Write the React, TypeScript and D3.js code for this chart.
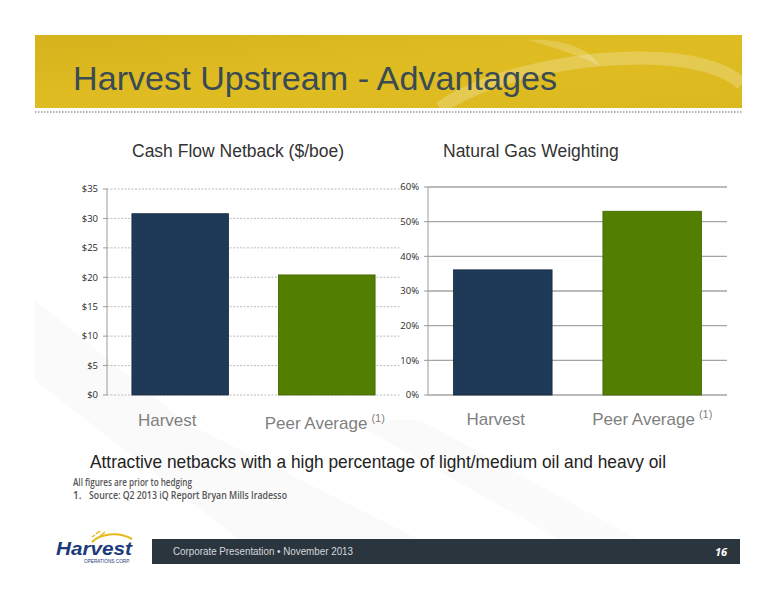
import React from 'react'
import * as d3 from 'd3'

// chart data
const categories = ['Harvest', 'Peer Average']
const netbackValues = [30.8, 20.4]
const gasWeightValues = [36.1, 53.0]
const netbackTicks = [0, 5, 10, 15, 20, 25, 30, 35]
const gasTicks = [0, 10, 20, 30, 40, 50, 60]
const barColors = ['#1f3a57', '#527f00']
const barStrokes = ['#16293e', '#3f6400']

const SANS = 'Arial, "Liberation Sans", Helvetica, sans-serif'
const TICK_FONT = '"Open Sans", "Noto Sans", sans-serif'

interface ChartProps {
  left: number
  right: number
  top: number
  bottom: number
  max: number
  ticks: number[]
  fmt: (v: number) => string
  values: number[]
  title: string
  titleX: number
  dotted: boolean
  labelDx: number[]
  labelY: number[]
}

function BarChart(p: ChartProps) {
  const x = d3.scaleBand<string>()
    .domain(categories)
    .range([p.left, p.right])
    .paddingInner(0.34)
    .paddingOuter(0.17)
  const y = d3.scaleLinear().domain([0, p.max]).range([p.bottom, p.top])

  return (
    <g>
      <text x={p.titleX} y={157} fontFamily={SANS} fontSize={17.5} fill="#333">{p.title}</text>
      {/* grid */}
      {p.ticks.map(t => (
        <line key={'g' + t} x1={p.left} x2={p.right} y1={y(t)} y2={y(t)}
          stroke={p.dotted ? '#bcbcbc' : '#a5a5a5'}
          strokeWidth={p.dotted ? 1 : 1.3}
          strokeDasharray={p.dotted ? '2,1.5' : undefined} />
      ))}
      {/* bars */}
      {p.values.map((v, i) => (
        <rect key={categories[i]} x={x(categories[i])} y={y(v)}
          width={x.bandwidth()} height={y(0) - y(v)}
          fill={barColors[i]} stroke={barStrokes[i]} strokeWidth={0.8} />
      ))}
      {/* y axis */}
      <line x1={p.left} x2={p.left} y1={p.top} y2={p.bottom} stroke="#9a9a9a" strokeWidth={1} />
      {p.ticks.map(t => (
        <g key={'t' + t}>
          <line x1={p.left - 4} x2={p.left} y1={y(t)} y2={y(t)} stroke="#9a9a9a" />
          <text x={p.left - 9} y={y(t)} dy="0.35em" textAnchor="end"
            fontFamily={TICK_FONT} fontSize={9.5} fill="#2a2a2a">{p.fmt(t)}</text>
        </g>
      ))}
      {/* category labels */}
      {categories.map((c, i) => (
        <text key={'l' + c} x={(x(c) as number) + x.bandwidth() / 2 + p.labelDx[i]} y={p.labelY[i]}
          textAnchor="middle" fontFamily={SANS} fontSize={17} fill="#7f7f7f">
          {c}
          {i === 1 && <tspan fontSize={11} dx={4} dy={-7}>(1)</tspan>}
        </text>
      ))}
    </g>
  )
}

export default function App() {
  return (
    <svg width={776} height={600} style={{ position: 'absolute', left: 0, top: 0 }}>
      <defs>
        <linearGradient id="banner" x1="0" x2="1" y1="0" y2="1">
          <stop offset="0" stopColor="#d6b21c" />
          <stop offset="0.5" stopColor="#dfbd22" />
          <stop offset="1" stopColor="#dcb81f" />
        </linearGradient>
      </defs>
      <rect width={776} height={600} fill="#ffffff" />
      {/* faint diagonal background stripes */}
      <g fill="#000" opacity={0.016}>
        <polygon points="35,300 35,380 240,540 330,540" />
        <polygon points="120,430 200,430 420,540 330,540" />
        <polygon points="350,420 420,420 640,540 560,540" />
      </g>

      {/* banner */}
      <rect x={35} y={35} width={707} height={73} fill="url(#banner)" />
      <path d="M440,108 C480,80 560,58 640,58 C690,58 725,68 742,84"
        fill="none" stroke="#fff" strokeOpacity={0.22} strokeWidth={13} />
      <path d="M528,40 C560,38 590,48 600,66 C580,56 556,48 528,40 Z"
        fill="#fff" fillOpacity={0.2} />
      <text x={73} y={90} fontFamily={SANS} fontSize={34} fill="#3a4b54"
        textLength={484} lengthAdjust="spacingAndGlyphs">Harvest Upstream - Advantages</text>
      <line x1={35} x2={742} y1={112} y2={112} stroke="#9a9a9a" strokeWidth={1.5} strokeDasharray="1.5,1.5" />

      <BarChart left={107} right={400} top={189} bottom={395} max={35}
        ticks={netbackTicks} fmt={v => '$' + v} values={netbackValues}
        title="Cash Flow Netback ($/boe)" titleX={132} dotted={true}
        labelDx={[-13, -2]} labelY={[426, 429]} />
      <BarChart left={428} right={727} top={187} bottom={395} max={60}
        ticks={gasTicks} fmt={v => v + '%'} values={gasWeightValues}
        title="Natural Gas Weighting" titleX={443} dotted={false}
        labelDx={[-7, 0]} labelY={[425, 425]} />

      <text x={90} y={468} fontFamily={SANS} fontSize={18.5} fill="#222"
        textLength={576} lengthAdjust="spacingAndGlyphs">
        Attractive netbacks with a high percentage of light/medium oil and heavy oil
      </text>
      <text x={73} y={486} fontFamily={TICK_FONT} fontWeight={600} fontSize={10} fill="#555"
        textLength={119} lengthAdjust="spacingAndGlyphs">All figures are prior to hedging</text>
      <text x={73} y={499} fontFamily={TICK_FONT} fontWeight={600} fontSize={10} fill="#555">1.</text>
      <text x={89} y={499} fontFamily={TICK_FONT} fontWeight={600} fontSize={10} fill="#555"
        textLength={198} lengthAdjust="spacingAndGlyphs">Source: Q2 2013 iQ Report Bryan Mills Iradesso</text>

      {/* footer */}
      <rect x={152} y={539} width={588} height={25} fill="#2b353e" />
      <text x={173} y={555} fontFamily={SANS} fontSize={10.5} fill="#d4d8dc"
        textLength={180} lengthAdjust="spacingAndGlyphs">Corporate Presentation • November 2013</text>
      <text x={727} y={556} textAnchor="end" fontFamily={TICK_FONT} fontStyle="italic" fontWeight={700}
        fontSize={11} fill="#fff">16</text>

      {/* logo */}
      <path d="M92,542 C100,534 118,531 132,539" fill="none" stroke="#e6b81e" strokeWidth={2.2} />
      <path d="M96,534 l4,-3 M100,536 l5,-4 M92,537 l3,-2" stroke="#e6b81e" strokeWidth={1.5} />
      <text x={56} y={555} fontFamily={SANS} fontStyle="italic" fontWeight={700} fontSize={18}
        fill="#1b3b7a" textLength={76} lengthAdjust="spacingAndGlyphs">Harvest</text>
      <text x={84} y={563} fontFamily={SANS} fontSize={4.5} fill="#1b3b7a"
        textLength={46} lengthAdjust="spacingAndGlyphs">OPERATIONS CORP.</text>
    </svg>
  )
}
